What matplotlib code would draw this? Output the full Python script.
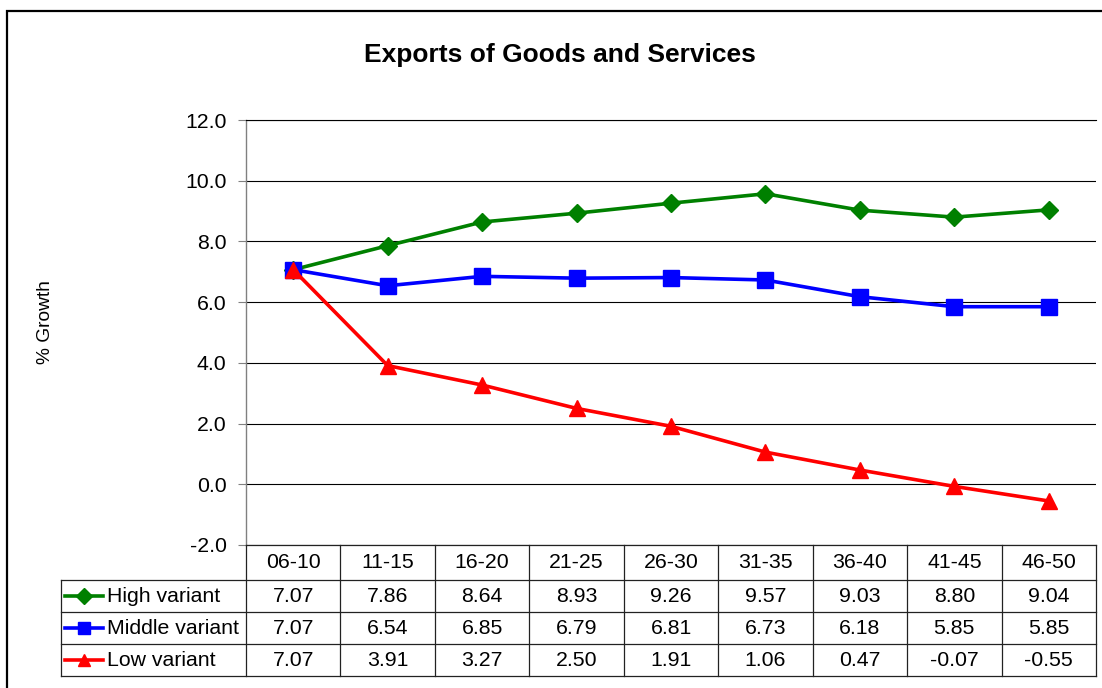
import numpy as np
import matplotlib
matplotlib.use("Agg")
import matplotlib.pyplot as plt
from matplotlib.patches import Rectangle
from matplotlib.lines import Line2D

plt.rcParams['font.family'] = ['Liberation Sans', 'DejaVu Sans']

periods = ["06-10", "11-15", "16-20", "21-25", "26-30",
           "31-35", "36-40", "41-45", "46-50"]
high = [7.07, 7.86, 8.64, 8.93, 9.26, 9.57, 9.03, 8.80, 9.04]
middle = [7.07, 6.54, 6.85, 6.79, 6.81, 6.73, 6.18, 5.85, 5.85]
low = [7.07, 3.91, 3.27, 2.50, 1.91, 1.06, 0.47, -0.07, -0.55]

series = [
    ("High variant", high, "#008000", "D", 9),
    ("Middle variant", middle, "#0000FF", "s", 11),
    ("Low variant", low, "#FF0000", "^", 11),
]

W, H = 1102, 688
FS = 15.3
fig = plt.figure(figsize=(W / 100, H / 100), dpi=100)


def px_box(x0, y0, x1, y1):
    # pixel box (top-left origin) -> figure fraction rect
    return [x0 / W, 1 - y1 / H, (x1 - x0) / W, (y1 - y0) / H]


# outer chart frame
fig.patches.append(Rectangle((7 / W, -0.05), 1.2, 1 - 11 / H + 0.05,
                             transform=fig.transFigure, fill=False,
                             edgecolor="black", linewidth=1.6))

x0, x1, ytop, ybot = 246, 1096, 120, 545
ax = fig.add_axes(px_box(x0, ytop, x1, ybot))
x = np.arange(len(periods))
for name, vals, color, marker, ms in series:
    ax.plot(x, vals, color=color, lw=2.6, marker=marker, ms=ms,
            markeredgecolor=color, clip_on=False, zorder=3)

ax.set_xlim(-0.5, len(periods) - 0.5)
ax.set_ylim(-2, 12)
ax.set_yticks(np.arange(-2, 12.1, 2))
ax.set_yticklabels([f"{v:.1f}" for v in np.arange(-2, 12.1, 2)])
ax.set_xticks([])
ax.grid(axis="y", color="black", lw=0.8)
ax.set_axisbelow(True)
for s in ["right", "bottom"]:
    ax.spines[s].set_visible(False)
ax.spines["top"].set_color("black")
ax.spines["top"].set_linewidth(0.8)
ax.spines["left"].set_color("#808080")
ax.spines["left"].set_linewidth(1.0)
ax.tick_params(axis="y", direction="out", length=6, color="#808080",
               labelsize=FS, pad=8)

fig.text(45 / W, 1 - 322 / H, "% Growth", rotation=90,
         ha="center", va="center", fontsize=FS - 1.5)
fig.text(560 / W, 1 - 55 / H, "Exports of Goods and Services",
         ha="center", va="center", fontsize=19, fontweight="bold")

# data table under the plot
lab_x = 61
unit = (x1 - x0) / len(periods)
row_edges = [545, 580, 612, 644, 676]
tx = fig.add_axes(px_box(lab_x, row_edges[0], x1, row_edges[-1]))
tx.set_xlim(-0.5 - (x0 - lab_x) / unit, len(periods) - 0.5)
tx.set_ylim(row_edges[-1], row_edges[0])
tx.axis("off")
lc, lw = "#222222", 0.9
left_edge = tx.get_xlim()[0]
# horizontal rules
tx.plot([-0.5, len(periods) - 0.5], [row_edges[0]] * 2, color=lc, lw=lw, clip_on=False)
for yy in row_edges[1:]:
    tx.plot([left_edge, len(periods) - 0.5], [yy, yy], color=lc, lw=lw, clip_on=False)
# vertical rules
for k in range(len(periods) + 1):
    tx.plot([k - 0.5, k - 0.5], [row_edges[0], row_edges[-1]], color=lc, lw=lw, clip_on=False)
tx.plot([left_edge, left_edge], [row_edges[1], row_edges[-1]], color=lc, lw=lw, clip_on=False)

hy = (row_edges[0] + row_edges[1]) / 2
for k, p in enumerate(periods):
    tx.text(k, hy, p, ha="center", va="center", fontsize=FS)

for r, (name, vals, color, marker, ms) in enumerate(series):
    cy = (row_edges[r + 1] + row_edges[r + 2]) / 2
    kx0 = left_edge + 4 / unit
    kx1 = left_edge + 42 / unit
    tx.add_line(Line2D([kx0, kx1], [cy, cy], color=color, lw=2.6, clip_on=False))
    tx.plot([(kx0 + kx1) / 2], [cy], marker=marker, color=color,
            ms=ms * 0.85, clip_on=False)
    tx.text(left_edge + 46 / unit, cy, name, ha="left", va="center", fontsize=FS)
    for k, v in enumerate(vals):
        tx.text(k, cy, f"{v:.2f}", ha="center", va="center", fontsize=FS)

fig.savefig("out.png", dpi=100)
